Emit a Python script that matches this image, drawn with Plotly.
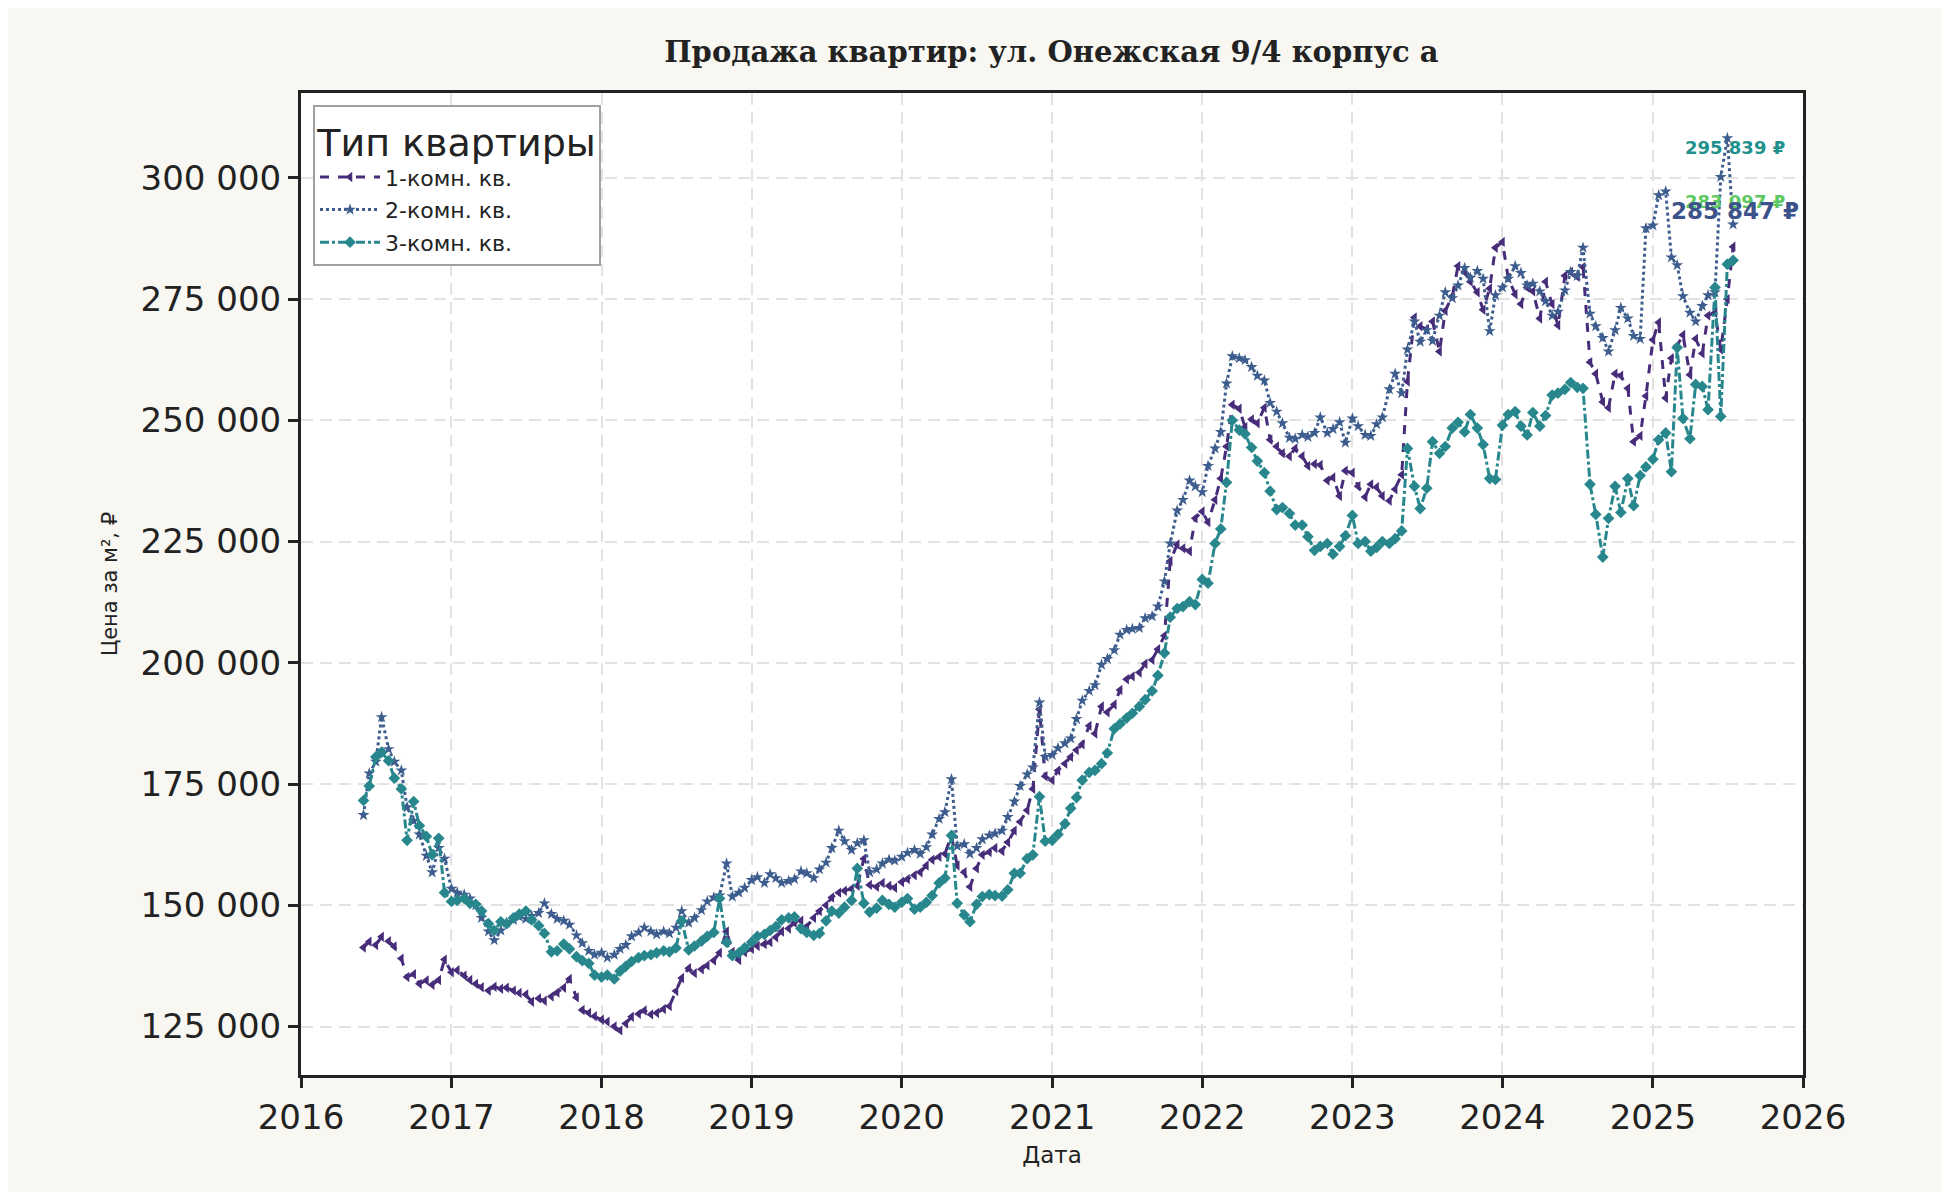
import pandas as pd
import plotly.graph_objects as go

# semi-monthly samples, first one 2016-06-01, values in thousand rubles per m²
start_date = "2016-06-01"

one_room_k = [
    141.3, 142.5, 141.8, 143.5, 142.6, 141.5, 139.0, 135.2, 135.8, 133.8, 134.5, 133.6, 134.6, 138.8,
    136.2, 136.6, 135.5, 134.6, 133.8, 133.1, 132.4, 133.2, 132.8, 133.0, 132.4, 131.9,
    131.6, 130.1, 130.8, 130.3, 131.2, 132.0, 133.0, 134.8, 131.0, 128.4, 127.8, 127.1,
    126.4, 126.0, 125.0, 124.2, 125.6, 127.0, 127.6, 128.3, 127.5, 127.8, 128.6, 129.2,
    132.3, 135.0, 137.0, 136.0, 136.8, 137.6, 138.6, 140.2, 144.6, 140.4, 138.7, 140.3,
    141.0, 141.6, 142.0, 142.4, 143.4, 144.6, 145.2, 146.4, 146.8, 145.6, 147.4, 148.8,
    150.0, 151.6, 152.6, 153.0, 153.4, 154.0, 159.6, 154.2, 153.8, 154.6, 154.0, 153.6,
    154.8, 155.4, 156.2, 156.8, 158.2, 159.4, 160.0, 160.6, 164.4, 158.2, 156.8, 153.8,
    157.6, 160.4, 161.0, 161.8, 161.2, 163.0, 165.4, 167.2, 169.6, 174.0, 190.4, 176.6,
    175.8, 177.8, 179.2, 180.6, 182.0, 183.2, 187.0, 185.4, 191.0, 189.8, 191.4, 194.4,
    196.6, 197.2, 198.0, 199.8, 200.6, 202.8, 205.6, 221.0, 224.4, 223.6, 223.0, 229.8,
    231.2, 229.0, 233.6, 238.0, 244.6, 253.2, 252.4, 248.6, 250.2, 249.4, 252.6, 246.0,
    244.6, 243.2, 242.6, 244.2, 242.6, 240.6, 241.0, 240.8, 237.6, 238.2, 234.4, 239.6,
    239.2, 236.4, 234.2, 236.8, 236.2, 234.4, 233.4, 235.8, 238.8, 258.0, 271.2, 269.4,
    268.8, 270.4, 264.2, 272.6, 275.6, 281.8, 280.6, 278.6, 276.4, 272.8, 277.2, 285.6,
    286.8, 279.4, 276.0, 274.0, 277.4, 276.6, 271.0, 278.6, 274.0, 269.6, 279.8, 280.6,
    279.6, 281.6, 262.0, 259.6, 253.8, 252.6, 259.6, 259.2, 256.6, 245.6, 246.8, 255.0,
    266.6, 270.2, 254.6, 262.8, 265.4, 267.6, 259.4, 266.8, 263.8, 271.6, 272.2, 264.6, 275.0, 285.8,
]

two_room_k = [
    168.6, 177.2, 179.6, 188.8, 182.2, 179.6, 177.8, 170.2, 167.4, 164.6, 160.2, 156.8, 161.8, 159.6,
    153.4, 152.6, 152.2, 151.4, 150.0, 147.4, 144.6, 142.8, 144.8, 146.4, 147.0, 147.6,
    147.2, 147.8, 148.4, 150.4, 148.2, 147.2, 146.8, 146.0, 143.8, 142.2, 140.6, 139.8,
    140.2, 139.2, 139.8, 141.0, 141.8, 143.6, 144.4, 145.4, 144.6, 144.0, 144.6, 144.2,
    145.4, 148.8, 146.4, 147.4, 149.0, 150.8, 151.6, 152.0, 158.6, 151.8, 152.6, 153.6,
    155.2, 155.8, 154.6, 156.4, 155.6, 154.6, 155.0, 155.4, 157.0, 156.6, 155.6, 157.4,
    158.8, 161.8, 165.4, 163.2, 161.4, 162.8, 163.4, 156.8, 157.4, 158.6, 159.4, 159.2,
    160.0, 160.8, 161.4, 160.6, 162.0, 164.6, 167.8, 169.2, 176.0, 162.2, 162.6, 160.6,
    161.8, 163.6, 164.4, 164.8, 165.4, 168.2, 171.4, 174.6, 177.0, 178.4, 191.8, 180.6,
    181.0, 182.4, 183.4, 184.4, 188.4, 192.2, 194.2, 195.4, 199.6, 200.8, 202.6, 205.8,
    206.8, 207.0, 207.2, 209.2, 209.6, 211.6, 216.8, 224.6, 231.4, 233.6, 237.6, 236.4,
    235.2, 240.6, 244.2, 247.6, 257.6, 263.2, 262.8, 262.4, 261.0, 259.2, 258.2, 253.6,
    251.8, 249.4, 246.4, 246.2, 247.0, 246.6, 247.4, 250.6, 247.4, 248.2, 249.6, 245.4,
    250.4, 248.8, 247.0, 246.8, 249.2, 250.6, 256.4, 259.6, 255.6, 264.6, 270.4, 266.2,
    268.6, 266.4, 271.6, 276.4, 275.2, 277.8, 281.4, 279.4, 280.8, 279.2, 268.4, 275.8,
    277.4, 279.2, 281.8, 280.4, 277.8, 278.2, 276.6, 274.6, 271.6, 272.4, 276.8, 280.6,
    279.8, 285.6, 272.0, 269.4, 267.0, 264.2, 268.6, 273.2, 271.0, 267.4, 266.8, 289.6,
    290.2, 296.4, 297.2, 283.6, 282.0, 275.6, 272.2, 270.4, 273.6, 275.8, 276.4, 300.2, 308.2, 290.4,
]

three_room_k = [
    171.6, 174.6, 180.6, 181.6, 179.8, 176.2, 174.0, 163.4, 171.4, 166.4, 164.2, 160.4, 163.8, 152.6,
    150.8, 151.0, 151.4, 150.4, 150.2, 148.8, 146.2, 144.8, 146.6, 146.2, 147.4, 148.2,
    148.8, 147.0, 145.8, 144.2, 140.4, 140.6, 142.0, 141.0, 139.4, 138.6, 138.0, 135.6,
    135.2, 135.6, 134.8, 136.4, 137.4, 138.4, 139.2, 139.6, 139.8, 140.2, 140.6, 140.4,
    141.2, 146.8, 140.8, 141.6, 142.6, 143.6, 144.4, 151.4, 142.4, 139.6, 140.2, 141.2,
    142.4, 143.6, 144.0, 144.8, 145.6, 147.0, 147.4, 147.6, 145.2, 144.4, 143.8, 144.2,
    146.8, 148.8, 148.4, 149.6, 151.0, 157.6, 150.4, 148.6, 149.4, 151.0, 150.2, 149.6,
    150.6, 151.4, 149.2, 149.6, 150.6, 152.0, 154.6, 155.6, 164.4, 150.4, 148.0, 146.6,
    150.2, 151.8, 152.2, 152.0, 151.9, 153.2, 156.6, 156.6, 159.6, 160.4, 172.4, 163.2,
    163.4, 164.6, 166.8, 170.0, 172.2, 175.8, 177.4, 177.8, 179.2, 181.4, 186.4, 187.4,
    188.6, 189.6, 191.0, 192.4, 194.2, 197.4, 202.0, 209.4, 211.2, 211.6, 212.6, 212.0,
    217.2, 216.4, 224.6, 227.6, 237.2, 250.0, 248.0, 247.2, 244.4, 241.6, 239.2, 235.4,
    231.6, 232.0, 230.8, 228.4, 228.4, 226.0, 223.2, 224.0, 224.6, 222.4, 224.0, 226.2,
    230.4, 224.6, 225.0, 223.0, 223.8, 225.0, 224.6, 225.6, 227.2, 244.2, 236.4, 231.8,
    236.0, 245.6, 243.2, 244.6, 248.4, 249.6, 247.6, 251.2, 248.4, 245.0, 238.0, 237.8,
    249.0, 251.2, 251.8, 248.8, 247.0, 251.6, 248.8, 251.0, 255.2, 255.6, 256.4, 257.8,
    256.8, 256.6, 236.8, 230.6, 221.8, 229.8, 236.4, 231.0, 238.0, 232.4, 238.6, 240.4,
    242.0, 246.0, 247.4, 239.4, 265.0, 250.4, 246.2, 257.4, 257.0, 252.2, 277.4, 250.8, 282.2, 283.0,
]

series_names = ["1-комн. кв.", "2-комн. кв.", "3-комн. кв."]
series_colors = ["#472c7a", "#3d5d8e", "#27878d"]
series_dash = ["dash", "dot", "dashdot"]
series_symbols = ["triangle-left", "star", "diamond"]

# end labels
label_texts = ["295 839 ₽", "283 097 ₽", "285 847 ₽"]
label_values = [306200, 295100, 293200]
label_date = "2025-07-20"
label_colors = ["#21918c", "#5ec962", "#3b528b"]
label_sizes = [18, 18, 23]

tick_years = list(range(2016, 2027))
y_ticks = [125000, 150000, 175000, 200000, 225000, 250000, 275000, 300000]

fig = go.Figure()

for name, vals, color, dash, sym in zip(series_names, [one_room_k, two_room_k, three_room_k],
                                         series_colors, series_dash, series_symbols):
    dates = pd.date_range(start=start_date, periods=len(vals), freq="SMS")
    fig.add_trace(go.Scatter(
        x=dates, y=[v * 1000 for v in vals], mode="lines+markers", name=name,
        legendgroup=name,
        line=dict(color=color, width=3, dash=dash),
        marker=dict(symbol=sym, size=9, color=color),
    ))

for txt, val, col, sz in zip(label_texts, label_values, label_colors, label_sizes):
    fig.add_annotation(x=label_date, y=val, text=f"<b>{txt}</b>", showarrow=False,
                       xanchor="center", yanchor="middle",
                       font=dict(family="DejaVu Sans", size=sz, color=col))

# the page puts the figure 8 px from the top-left corner
fig.update_layout(
    width=1934, height=1184,
    paper_bgcolor="#f8f7f2", plot_bgcolor="white",
    margin=dict(l=293, r=139, t=85, b=117),
    separators=". ",
    font=dict(family="DejaVu Sans", color="#222222"),
    title=dict(text="Продажа квартир: ул. Онежская 9/4 корпус а", x=0.5395, xanchor="center",
               y=0.963, yanchor="middle",
               font=dict(family="DejaVu Serif", size=29, weight="bold", color="#222222")),
    legend=dict(
        title=dict(text="Тип квартиры", side="top center", font=dict(size=38, color="#222222")),
        x=0.008, y=0.988, xanchor="left", yanchor="top",
        bgcolor="white", bordercolor="#a0a0a0", borderwidth=2,
        font=dict(size=22, color="#222222"), tracegroupgap=1, itemwidth=60,
    ),
)

fig.update_xaxes(
    type="date", range=["2016-01-01", "2026-01-01"],
    tickvals=[f"{y}-01-01" for y in tick_years], ticktext=[str(y) for y in tick_years],
    tickfont=dict(size=34), ticks="outside", ticklen=10, tickwidth=2.5, tickcolor="#222222",
    showline=True, linecolor="#222222", linewidth=3, mirror=True,
    showgrid=True, gridcolor="#e2e2e2", gridwidth=2, griddash="12px,7px",
    title=dict(text="Дата", font=dict(size=23), standoff=12),
)
fig.update_yaxes(
    range=[115000, 317500], tickvals=y_ticks, tickformat=",d",
    tickfont=dict(size=34), ticks="outside", ticklen=10, tickwidth=2.5, tickcolor="#222222",
    showline=True, linecolor="#222222", linewidth=3, mirror=True,
    showgrid=True, gridcolor="#e2e2e2", gridwidth=2, griddash="12px,7px", zeroline=False,
    title=dict(text="Цена за м², ₽", font=dict(size=21), standoff=18),
)

fig.write_html("out.html")
